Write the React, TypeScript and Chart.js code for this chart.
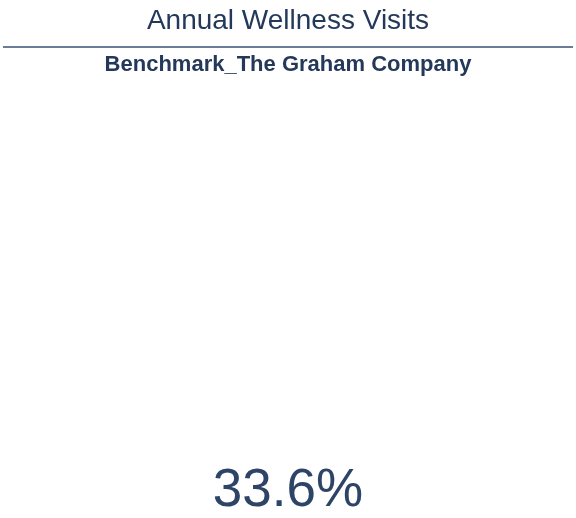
import React, { useEffect, useRef } from 'react';
import Chart from 'chart.js/auto';

const titleText = 'Annual Wellness Visits';
const subtitleText = 'Benchmark_The Graham Company';
const kpiLabels = ['Benchmark'];
const kpiValues = [33.6];

const FONT = '"Liberation Sans", Arial, sans-serif';

const kpiPlugin = {
    id: 'kpi',
    afterDraw(chart: any) {
        const ctx = chart.ctx;
        const w = chart.width;
        ctx.save();
        // rule under the title
        ctx.strokeStyle = '#6b7d96';
        ctx.lineWidth = 2;
        ctx.beginPath();
        ctx.moveTo(3, 47);
        ctx.lineTo(w - 3, 47);
        ctx.stroke();
        // big value
        const v = chart.data.datasets[0].data[0];
        ctx.fillStyle = '#2e4466';
        ctx.font = `300 53px ${FONT}`;
        ctx.textAlign = 'center';
        ctx.textBaseline = 'alphabetic';
        ctx.fillText(`${v.toFixed(1)}%`, w / 2, 506);
        ctx.restore();
    },
};

const App: React.FC = () => {
    const chartRef = useRef<HTMLCanvasElement>(null);

    useEffect(() => {
        let chart: Chart | null = null;
        if (chartRef.current) {
            chart = new Chart(chartRef.current, {
                type: 'bar',
                data: {
                    labels: kpiLabels,
                    datasets: [{ data: kpiValues, backgroundColor: 'rgba(0,0,0,0)' }],
                },
                options: {
                    animation: false,
                    responsive: false,
                    layout: { padding: 0 },
                    scales: { x: { display: false }, y: { display: false } },
                    plugins: {
                        legend: { display: false },
                        tooltip: { enabled: false },
                        title: {
                            display: true,
                            text: titleText,
                            color: '#24395a',
                            font: { family: FONT, size: 28, weight: 'normal' },
                            padding: { top: 4, bottom: 12 },
                        },
                        subtitle: {
                            display: true,
                            text: subtitleText,
                            color: '#24395a',
                            font: { family: FONT, size: 22, weight: 'bold' },
                            padding: { top: 2, bottom: 10 },
                        },
                    },
                },
                plugins: [kpiPlugin],
            });
        }
        return () => {
            if (chart) chart.destroy();
        };
    }, []);

    return (
        <div style={{ position: 'absolute', left: 0, top: 0, width: 576, height: 518, background: '#fff' }}>
            <canvas ref={chartRef} width={576} height={518} />
        </div>
    );
};

export default App;
